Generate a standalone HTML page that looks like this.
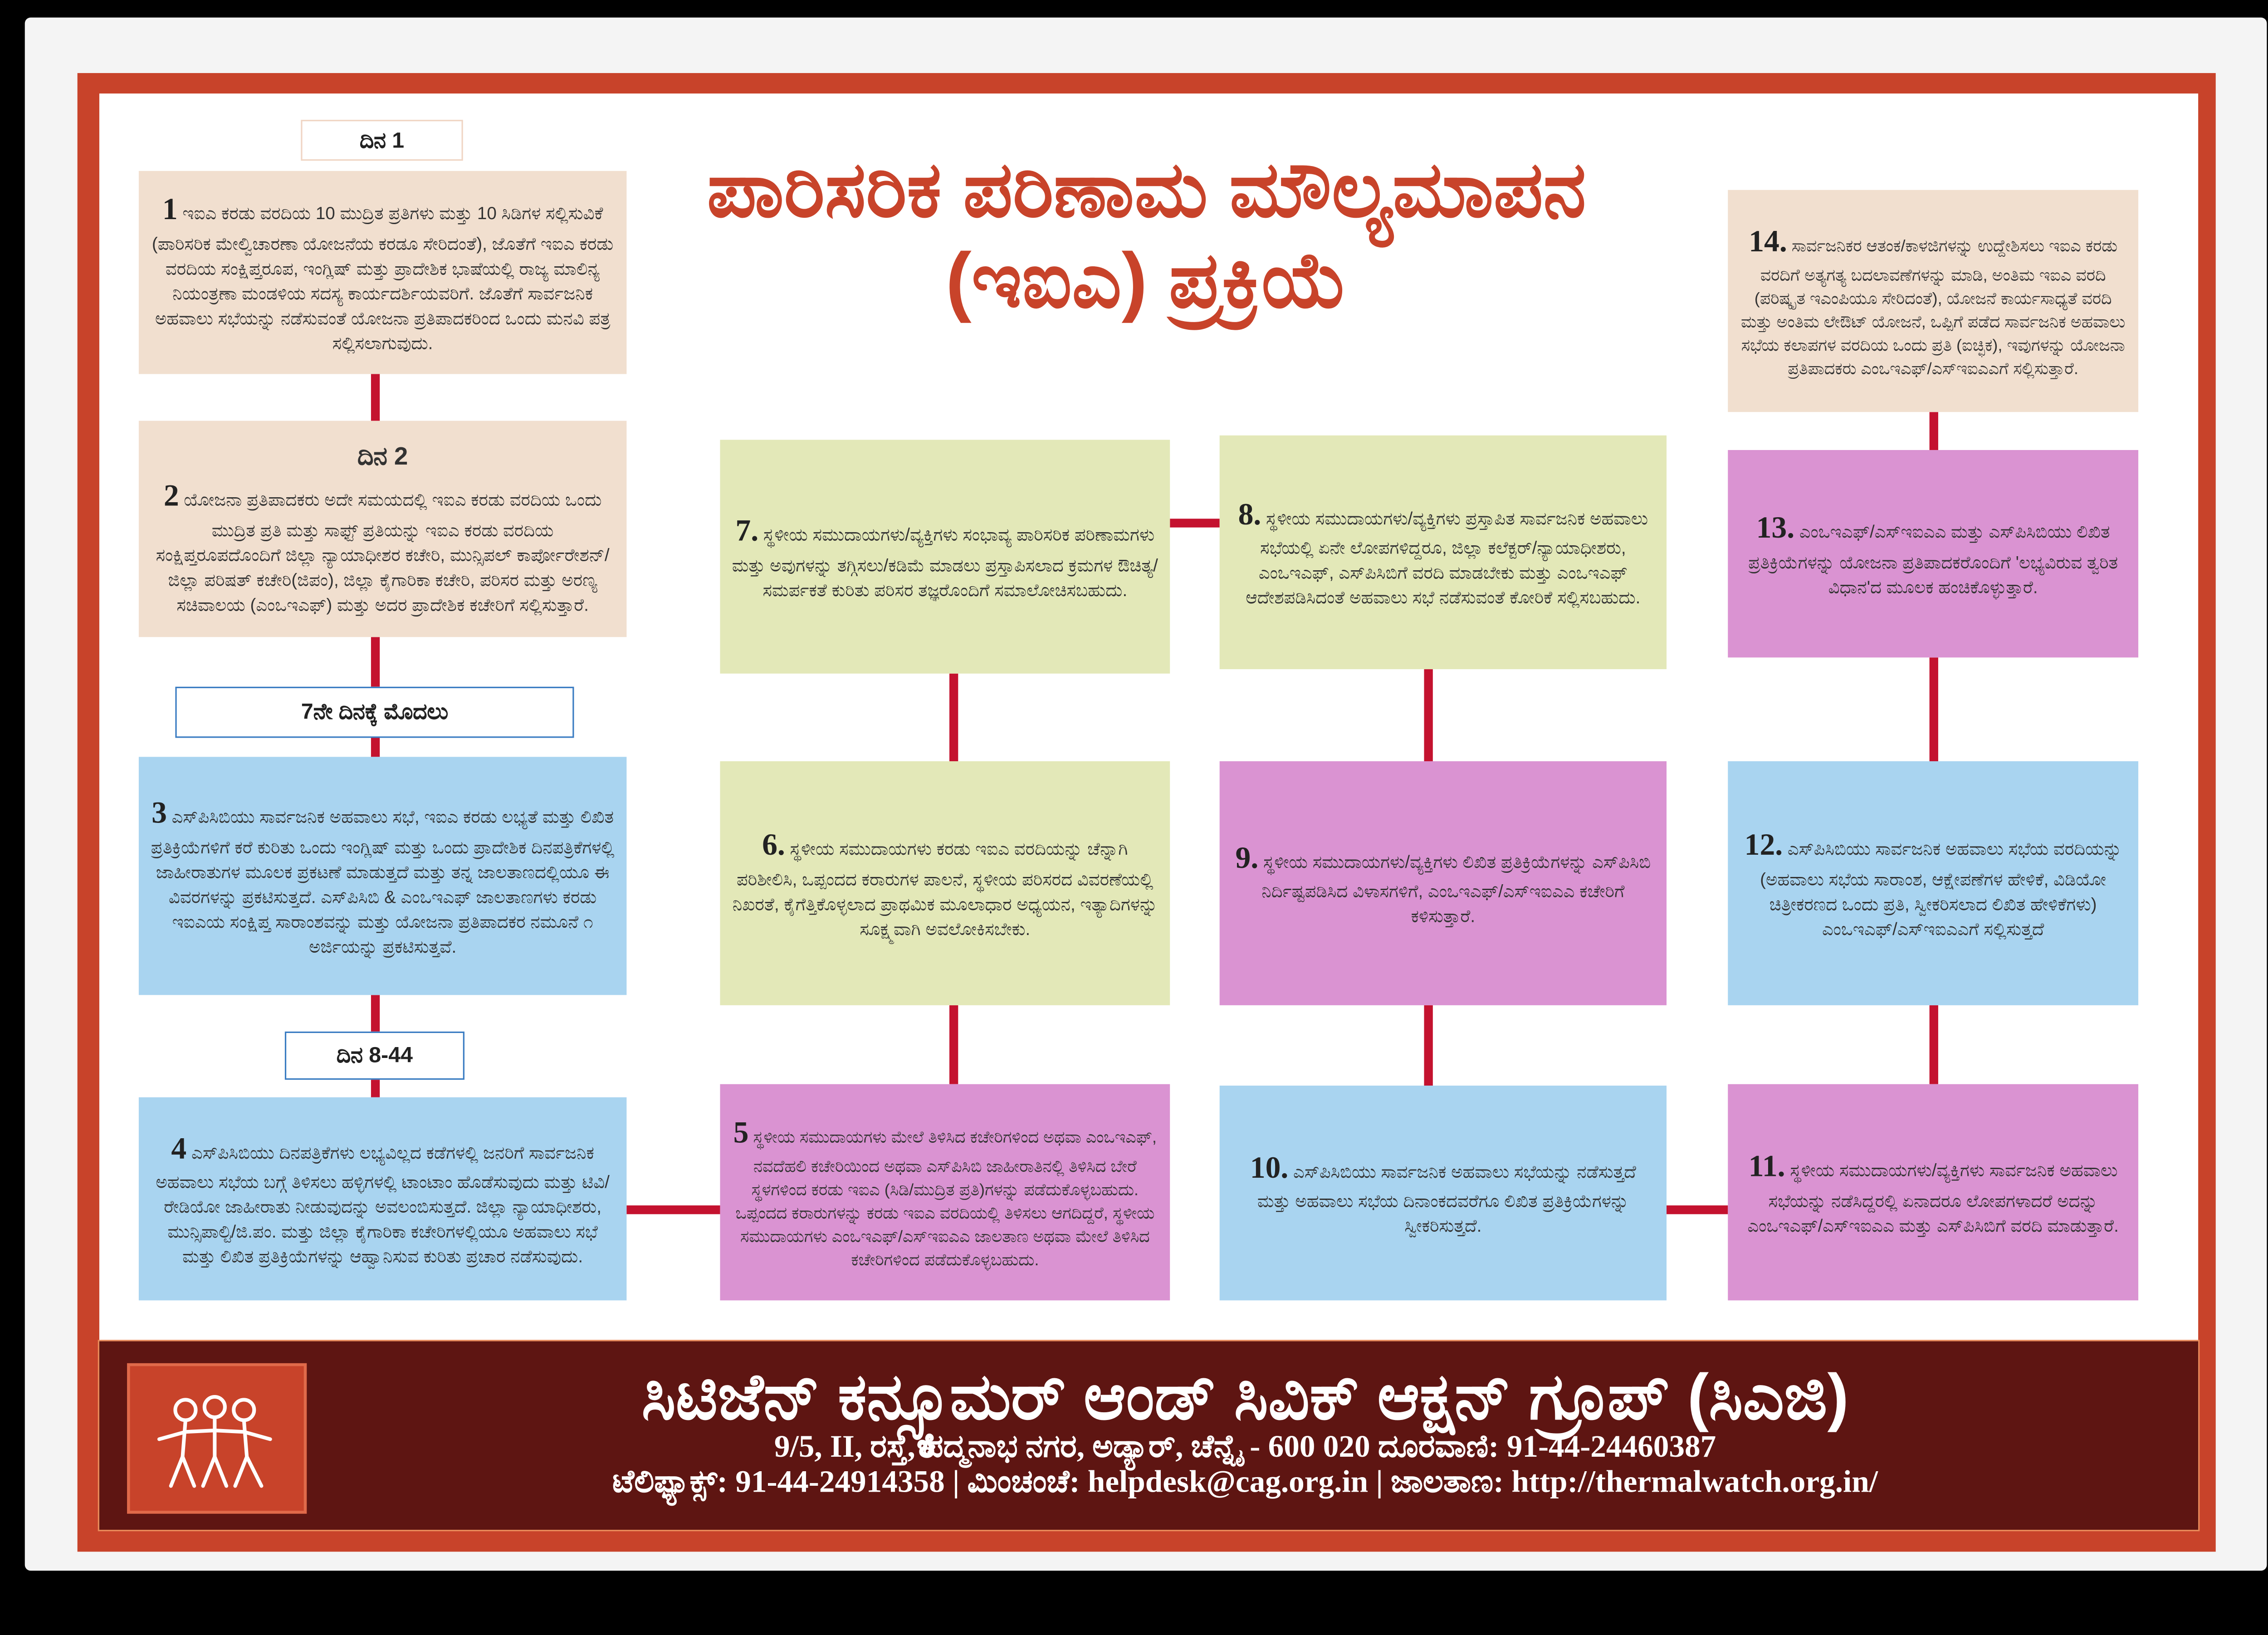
<!DOCTYPE html>
<html><head><meta charset="utf-8">
<style>
html,body{margin:0;padding:0;background:#000;}
body{width:5049px;height:3604px;overflow:hidden;position:relative;}
#s{position:absolute;left:0;top:0;width:1568px;height:1119px;transform:scale(3.22,3.2207);transform-origin:0 0;background:#000;font-family:"Liberation Sans","Noto Sans CJK SC",sans-serif;}
.a{position:absolute;box-sizing:border-box;}
.box{position:absolute;box-sizing:border-box;font-size:12px;line-height:1.42;color:#333;text-align:center;padding:5px 8px;display:flex;flex-direction:column;justify-content:center;}
.box b.n{font-family:"Liberation Serif",serif;font-size:21px;font-weight:bold;color:#222;}
.pe{background:#f1dfcf;}
.bl{background:#a9d4f0;}
.gr{background:#e3e8b8;}
.pk{background:#da93d2;}
.v{position:absolute;background:#c4122f;width:6px;}
.h{position:absolute;background:#c4122f;height:6px;}
.lab{position:absolute;box-sizing:border-box;background:#fff;text-align:center;font-weight:bold;font-size:15px;color:#222;display:flex;align-items:center;justify-content:center;}
</style></head><body><div id="s">
<div class="a" style="left:17px;top:12px;width:1535px;height:1063px;background:#f4f4f4;border-radius:4px;"></div>
<div class="a" style="left:53px;top:50px;width:1464px;height:1012px;background:#c8432a;"></div>
<div class="a" style="left:68px;top:64px;width:1437px;height:855px;background:#fff;"></div>
<div class="a" style="left:67px;top:917px;width:1439px;height:131px;background:#e88a5a;"></div>
<div class="a" style="left:68px;top:918px;width:1437px;height:129px;background:#5e1512;"></div>

<div class="a" style="left:330px;top:100px;width:910px;text-align:center;color:#c8432a;font-weight:bold;font-size:53px;line-height:62px;">ಪಾರಿಸರಿಕ ಪರಿಣಾಮ ಮೌಲ್ಯಮಾಪನ<br>(ಇಐಎ) ಪ್ರಕ್ರಿಯೆ</div>

<!-- connectors -->
<div class="v" style="left:254px;top:256px;height:32px"></div>
<div class="v" style="left:254px;top:436px;height:34px"></div>
<div class="v" style="left:254px;top:505px;height:13px"></div>
<div class="v" style="left:254px;top:681px;height:25px"></div>
<div class="v" style="left:254px;top:739px;height:12px"></div>
<div class="h" style="left:429px;top:825px;width:64px"></div>
<div class="v" style="left:650px;top:461px;height:60px"></div>
<div class="v" style="left:650px;top:688px;height:54px"></div>
<div class="h" style="left:801px;top:355px;width:34px"></div>
<div class="v" style="left:975px;top:458px;height:63px"></div>
<div class="v" style="left:975px;top:688px;height:55px"></div>
<div class="h" style="left:1141px;top:825px;width:42px"></div>
<div class="v" style="left:1321px;top:282px;height:26px"></div>
<div class="v" style="left:1321px;top:450px;height:71px"></div>
<div class="v" style="left:1321px;top:688px;height:54px"></div>

<div class="lab" style="left:206px;top:82px;width:111px;height:28px;border:1.5px solid #f0d5c4;">ದಿನ 1</div>
<div class="box pe" style="left:95px;top:117px;width:334px;height:139px;"><div><b class="n">1</b> ಇಐಎ ಕರಡು ವರದಿಯ 10 ಮುದ್ರಿತ ಪ್ರತಿಗಳು ಮತ್ತು 10 ಸಿಡಿಗಳ ಸಲ್ಲಿಸುವಿಕೆ (ಪಾರಿಸರಿಕ ಮೇಲ್ವಿಚಾರಣಾ ಯೋಜನೆಯ ಕರಡೂ ಸೇರಿದಂತೆ), ಜೊತೆಗೆ ಇಐಎ ಕರಡು ವರದಿಯ ಸಂಕ್ಷಿಪ್ತರೂಪ, ಇಂಗ್ಲಿಷ್ ಮತ್ತು ಪ್ರಾದೇಶಿಕ ಭಾಷೆಯಲ್ಲಿ ರಾಜ್ಯ ಮಾಲಿನ್ಯ ನಿಯಂತ್ರಣಾ ಮಂಡಳಿಯ ಸದಸ್ಯ ಕಾರ್ಯದರ್ಶಿಯವರಿಗೆ. ಜೊತೆಗೆ ಸಾರ್ವಜನಿಕ ಅಹವಾಲು ಸಭೆಯನ್ನು ನಡೆಸುವಂತೆ ಯೋಜನಾ ಪ್ರತಿಪಾದಕರಿಂದ ಒಂದು ಮನವಿ ಪತ್ರ ಸಲ್ಲಿಸಲಾಗುವುದು.</div></div>
<div class="box pe" style="left:95px;top:288px;width:334px;height:148px;"><div><b style="font-size:17px">ದಿನ 2</b><br><b class="n">2</b> ಯೋಜನಾ ಪ್ರತಿಪಾದಕರು ಅದೇ ಸಮಯದಲ್ಲಿ ಇಐಎ ಕರಡು ವರದಿಯ ಒಂದು ಮುದ್ರಿತ ಪ್ರತಿ ಮತ್ತು ಸಾಫ್ಟ್ ಪ್ರತಿಯನ್ನು ಇಐಎ ಕರಡು ವರದಿಯ ಸಂಕ್ಷಿಪ್ತರೂಪದೊಂದಿಗೆ ಜಿಲ್ಲಾ ನ್ಯಾಯಾಧೀಶರ ಕಚೇರಿ, ಮುನ್ಸಿಪಲ್ ಕಾರ್ಪೋರೇಶನ್/ಜಿಲ್ಲಾ ಪರಿಷತ್ ಕಚೇರಿ(ಜಿಪಂ), ಜಿಲ್ಲಾ ಕೈಗಾರಿಕಾ ಕಚೇರಿ, ಪರಿಸರ ಮತ್ತು ಅರಣ್ಯ ಸಚಿವಾಲಯ (ಎಂಒಇಎಫ್) ಮತ್ತು ಅದರ ಪ್ರಾದೇಶಿಕ ಕಚೇರಿಗೆ ಸಲ್ಲಿಸುತ್ತಾರೆ.</div></div>
<div class="lab" style="left:120px;top:470px;width:273px;height:35px;border:1.5px solid #3a7cc2;">7ನೇ ದಿನಕ್ಕೆ ಮೊದಲು</div>
<div class="box bl" style="left:95px;top:518px;width:334px;height:163px;"><div><b class="n">3</b> ಎಸ್‌ಪಿಸಿಬಿಯು ಸಾರ್ವಜನಿಕ ಅಹವಾಲು ಸಭೆ, ಇಐಎ ಕರಡು ಲಭ್ಯತೆ ಮತ್ತು ಲಿಖಿತ ಪ್ರತಿಕ್ರಿಯೆಗಳಿಗೆ ಕರೆ ಕುರಿತು ಒಂದು ಇಂಗ್ಲಿಷ್ ಮತ್ತು ಒಂದು ಪ್ರಾದೇಶಿಕ ದಿನಪತ್ರಿಕೆಗಳಲ್ಲಿ ಜಾಹೀರಾತುಗಳ ಮೂಲಕ ಪ್ರಕಟಣೆ ಮಾಡುತ್ತದೆ ಮತ್ತು ತನ್ನ ಜಾಲತಾಣದಲ್ಲಿಯೂ ಈ ವಿವರಗಳನ್ನು ಪ್ರಕಟಿಸುತ್ತದೆ. ಎಸ್‌ಪಿಸಿಬಿ &amp; ಎಂಒಇಎಫ್ ಜಾಲತಾಣಗಳು ಕರಡು ಇಐಎಯ ಸಂಕ್ಷಿಪ್ತ ಸಾರಾಂಶವನ್ನು ಮತ್ತು ಯೋಜನಾ ಪ್ರತಿಪಾದಕರ ನಮೂನೆ ೧ ಅರ್ಜಿಯನ್ನು ಪ್ರಕಟಿಸುತ್ತವೆ.</div></div>
<div class="lab" style="left:195px;top:706px;width:123px;height:33px;border:1.5px solid #3a7cc2;">ದಿನ 8-44</div>
<div class="box bl" style="left:95px;top:751px;width:334px;height:139px;"><div><b class="n">4</b> ಎಸ್‌ಪಿಸಿಬಿಯು ದಿನಪತ್ರಿಕೆಗಳು ಲಭ್ಯವಿಲ್ಲದ ಕಡೆಗಳಲ್ಲಿ ಜನರಿಗೆ ಸಾರ್ವಜನಿಕ ಅಹವಾಲು ಸಭೆಯ ಬಗ್ಗೆ ತಿಳಿಸಲು ಹಳ್ಳಿಗಳಲ್ಲಿ ಟಾಂಟಾಂ ಹೊಡೆಸುವುದು ಮತ್ತು ಟಿವಿ/ರೇಡಿಯೋ ಜಾಹೀರಾತು ನೀಡುವುದನ್ನು ಅವಲಂಬಿಸುತ್ತದೆ. ಜಿಲ್ಲಾ ನ್ಯಾಯಾಧೀಶರು, ಮುನ್ಸಿಪಾಲ್ಟಿ/ಜಿ.ಪಂ. ಮತ್ತು ಜಿಲ್ಲಾ ಕೈಗಾರಿಕಾ ಕಚೇರಿಗಳಲ್ಲಿಯೂ ಅಹವಾಲು ಸಭೆ ಮತ್ತು ಲಿಖಿತ ಪ್ರತಿಕ್ರಿಯೆಗಳನ್ನು ಆಹ್ವಾನಿಸುವ ಕುರಿತು ಪ್ರಚಾರ ನಡೆಸುವುದು.</div></div>

<div class="box gr" style="left:493px;top:301px;width:308px;height:160px;"><div><b class="n">7.</b> ಸ್ಥಳೀಯ ಸಮುದಾಯಗಳು/ವ್ಯಕ್ತಿಗಳು ಸಂಭಾವ್ಯ ಪಾರಿಸರಿಕ ಪರಿಣಾಮಗಳು ಮತ್ತು ಅವುಗಳನ್ನು ತಗ್ಗಿಸಲು/ಕಡಿಮೆ ಮಾಡಲು ಪ್ರಸ್ತಾಪಿಸಲಾದ ಕ್ರಮಗಳ ಔಚಿತ್ಯ/ಸಮರ್ಪಕತೆ ಕುರಿತು ಪರಿಸರ ತಜ್ಞರೊಂದಿಗೆ ಸಮಾಲೋಚಿಸಬಹುದು.</div></div>
<div class="box gr" style="left:493px;top:521px;width:308px;height:167px;"><div><b class="n">6.</b> ಸ್ಥಳೀಯ ಸಮುದಾಯಗಳು ಕರಡು ಇಐಎ ವರದಿಯನ್ನು ಚೆನ್ನಾಗಿ ಪರಿಶೀಲಿಸಿ, ಒಪ್ಪಂದದ ಕರಾರುಗಳ ಪಾಲನೆ, ಸ್ಥಳೀಯ ಪರಿಸರದ ವಿವರಣೆಯಲ್ಲಿ ನಿಖರತೆ, ಕೈಗೆತ್ತಿಕೊಳ್ಳಲಾದ ಪ್ರಾಥಮಿಕ ಮೂಲಾಧಾರ ಅಧ್ಯಯನ, ಇತ್ಯಾದಿಗಳನ್ನು ಸೂಕ್ಷ್ಮವಾಗಿ ಅವಲೋಕಿಸಬೇಕು.</div></div>
<div class="box pk" style="left:493px;top:742px;width:308px;height:148px;font-size:11.3px;"><div><b class="n">5</b> ಸ್ಥಳೀಯ ಸಮುದಾಯಗಳು ಮೇಲೆ ತಿಳಿಸಿದ ಕಚೇರಿಗಳಿಂದ ಅಥವಾ ಎಂಒಇಎಫ್, ನವದೆಹಲಿ ಕಚೇರಿಯಿಂದ ಅಥವಾ ಎಸ್‌ಪಿಸಿಬಿ ಜಾಹೀರಾತಿನಲ್ಲಿ ತಿಳಿಸಿದ ಬೇರೆ ಸ್ಥಳಗಳಿಂದ ಕರಡು ಇಐಎ (ಸಿಡಿ/ಮುದ್ರಿತ ಪ್ರತಿ)ಗಳನ್ನು ಪಡೆದುಕೊಳ್ಳಬಹುದು. ಒಪ್ಪಂದದ ಕರಾರುಗಳನ್ನು ಕರಡು ಇಐಎ ವರದಿಯಲ್ಲಿ ತಿಳಿಸಲು ಆಗದಿದ್ದರೆ, ಸ್ಥಳೀಯ ಸಮುದಾಯಗಳು ಎಂಒಇಎಫ್/ಎಸ್‌ಇಐಎಎ ಜಾಲತಾಣ ಅಥವಾ ಮೇಲೆ ತಿಳಿಸಿದ ಕಚೇರಿಗಳಿಂದ ಪಡೆದುಕೊಳ್ಳಬಹುದು.</div></div>

<div class="box gr" style="left:835px;top:298px;width:306px;height:160px;"><div><b class="n">8.</b> ಸ್ಥಳೀಯ ಸಮುದಾಯಗಳು/ವ್ಯಕ್ತಿಗಳು ಪ್ರಸ್ತಾಪಿತ ಸಾರ್ವಜನಿಕ ಅಹವಾಲು ಸಭೆಯಲ್ಲಿ ಏನೇ ಲೋಪಗಳಿದ್ದರೂ, ಜಿಲ್ಲಾ ಕಲೆಕ್ಟರ್/ನ್ಯಾಯಾಧೀಶರು, ಎಂಒಇಎಫ್, ಎಸ್‌ಪಿಸಿಬಿಗೆ ವರದಿ ಮಾಡಬೇಕು ಮತ್ತು ಎಂಒಇಎಫ್ ಆದೇಶಪಡಿಸಿದಂತೆ ಅಹವಾಲು ಸಭೆ ನಡೆಸುವಂತೆ ಕೋರಿಕೆ ಸಲ್ಲಿಸಬಹುದು.</div></div>
<div class="box pk" style="left:835px;top:521px;width:306px;height:167px;"><div><b class="n">9.</b> ಸ್ಥಳೀಯ ಸಮುದಾಯಗಳು/ವ್ಯಕ್ತಿಗಳು ಲಿಖಿತ ಪ್ರತಿಕ್ರಿಯೆಗಳನ್ನು ಎಸ್‌ಪಿಸಿಬಿ ನಿರ್ದಿಷ್ಟಪಡಿಸಿದ ವಿಳಾಸಗಳಿಗೆ, ಎಂಒಇಎಫ್/ಎಸ್‌ಇಐಎಎ ಕಚೇರಿಗೆ ಕಳಿಸುತ್ತಾರೆ.</div></div>
<div class="box bl" style="left:835px;top:743px;width:306px;height:147px;"><div><b class="n">10.</b> ಎಸ್‌ಪಿಸಿಬಿಯು ಸಾರ್ವಜನಿಕ ಅಹವಾಲು ಸಭೆಯನ್ನು ನಡೆಸುತ್ತದೆ ಮತ್ತು ಅಹವಾಲು ಸಭೆಯ ದಿನಾಂಕದವರೆಗೂ ಲಿಖಿತ ಪ್ರತಿಕ್ರಿಯೆಗಳನ್ನು ಸ್ವೀಕರಿಸುತ್ತದೆ.</div></div>

<div class="box pe" style="left:1183px;top:130px;width:281px;height:152px;font-size:11.3px;"><div><b class="n">14.</b> ಸಾರ್ವಜನಿಕರ ಆತಂಕ/ಕಾಳಜಿಗಳನ್ನು ಉದ್ದೇಶಿಸಲು ಇಐಎ ಕರಡು ವರದಿಗೆ ಅತ್ಯಗತ್ಯ ಬದಲಾವಣೆಗಳನ್ನು ಮಾಡಿ, ಅಂತಿಮ ಇಐಎ ವರದಿ (ಪರಿಷ್ಕೃತ ಇಎಂಪಿಯೂ ಸೇರಿದಂತೆ), ಯೋಜನೆ ಕಾರ್ಯಸಾಧ್ಯತೆ ವರದಿ ಮತ್ತು ಅಂತಿಮ ಲೇಔಟ್ ಯೋಜನೆ, ಒಪ್ಪಿಗೆ ಪಡೆದ ಸಾರ್ವಜನಿಕ ಅಹವಾಲು ಸಭೆಯ ಕಲಾಪಗಳ ವರದಿಯ ಒಂದು ಪ್ರತಿ (ಐಚ್ಛಿಕ), ಇವುಗಳನ್ನು ಯೋಜನಾ ಪ್ರತಿಪಾದಕರು ಎಂಒಇಎಫ್/ಎಸ್‌ಇಐಎಎಗೆ ಸಲ್ಲಿಸುತ್ತಾರೆ.</div></div>
<div class="box pk" style="left:1183px;top:308px;width:281px;height:142px;"><div><b class="n">13.</b> ಎಂಒಇಎಫ್/ಎಸ್‌ಇಐಎಎ ಮತ್ತು ಎಸ್‌ಪಿಸಿಬಿಯು ಲಿಖಿತ ಪ್ರತಿಕ್ರಿಯೆಗಳನ್ನು ಯೋಜನಾ ಪ್ರತಿಪಾದಕರೊಂದಿಗೆ 'ಲಭ್ಯವಿರುವ ತ್ವರಿತ ವಿಧಾನ'ದ ಮೂಲಕ ಹಂಚಿಕೊಳ್ಳುತ್ತಾರೆ.</div></div>
<div class="box bl" style="left:1183px;top:521px;width:281px;height:167px;"><div><b class="n">12.</b> ಎಸ್‌ಪಿಸಿಬಿಯು ಸಾರ್ವಜನಿಕ ಅಹವಾಲು ಸಭೆಯ ವರದಿಯನ್ನು (ಅಹವಾಲು ಸಭೆಯ ಸಾರಾಂಶ, ಆಕ್ಷೇಪಣೆಗಳ ಹೇಳಿಕೆ, ವಿಡಿಯೋ ಚಿತ್ರೀಕರಣದ ಒಂದು ಪ್ರತಿ, ಸ್ವೀಕರಿಸಲಾದ ಲಿಖಿತ ಹೇಳಿಕೆಗಳು) ಎಂಒಇಎಫ್/ಎಸ್‌ಇಐಎಎಗೆ ಸಲ್ಲಿಸುತ್ತದೆ</div></div>
<div class="box pk" style="left:1183px;top:742px;width:281px;height:148px;"><div><b class="n">11.</b> ಸ್ಥಳೀಯ ಸಮುದಾಯಗಳು/ವ್ಯಕ್ತಿಗಳು ಸಾರ್ವಜನಿಕ ಅಹವಾಲು ಸಭೆಯನ್ನು ನಡೆಸಿದ್ದರಲ್ಲಿ ಏನಾದರೂ ಲೋಪಗಳಾದರೆ ಅದನ್ನು ಎಂಒಇಎಫ್/ಎಸ್‌ಇಐಎಎ ಮತ್ತು ಎಸ್‌ಪಿಸಿಬಿಗೆ ವರದಿ ಮಾಡುತ್ತಾರೆ.</div></div>

<!-- footer -->
<div class="a" style="left:87px;top:933px;width:123px;height:103px;background:#c8432a;border:2px solid #e06a4a;">
<svg width="119" height="99" viewBox="0 0 119 99"><g fill="none" stroke="#fff" stroke-width="2.5" stroke-linecap="round">
<circle cx="38" cy="30" r="7"/><circle cx="58" cy="28" r="7"/><circle cx="78" cy="30" r="7"/>
<path d="M38 37 L36 62 M36 62 L28 82 M36 62 L44 82 M58 35 L58 62 M58 62 L50 82 M58 62 L66 82 M78 37 L80 62 M80 62 L72 82 M80 62 L90 82 M20 50 L38 45 L58 44 L78 45 L96 50"/>
</g></svg></div>
<div class="a" style="left:300px;top:932px;width:1105px;text-align:center;color:#fff;font-weight:bold;font-size:44px;line-height:50px;white-space:nowrap;">ಸಿಟಿಜೆನ್ ಕನ್ಸ್ಯೂಮರ್ ಆಂಡ್ ಸಿವಿಕ್ ಆಕ್ಷನ್ ಗ್ರೂಪ್ (ಸಿಎಜಿ)</div>
<div class="a" style="left:300px;top:978px;width:1105px;text-align:center;color:#fff;font-weight:bold;font-family:'Liberation Serif',serif;font-size:21.5px;line-height:24px;white-space:nowrap;">9/5, II, ರಸ್ತೆ, ಪದ್ಮನಾಭ ನಗರ, ಅಡ್ಯಾರ್, ಚೆನ್ನೈ - 600 020 ದೂರವಾಣಿ: 91-44-24460387<br>ಟೆಲಿಫ್ಯಾಕ್ಸ್: 91-44-24914358 | ಮಿಂಚಂಚೆ: helpdesk@cag.org.in | ಜಾಲತಾಣ: http://thermalwatch.org.in/</div>
</div></body></html>
